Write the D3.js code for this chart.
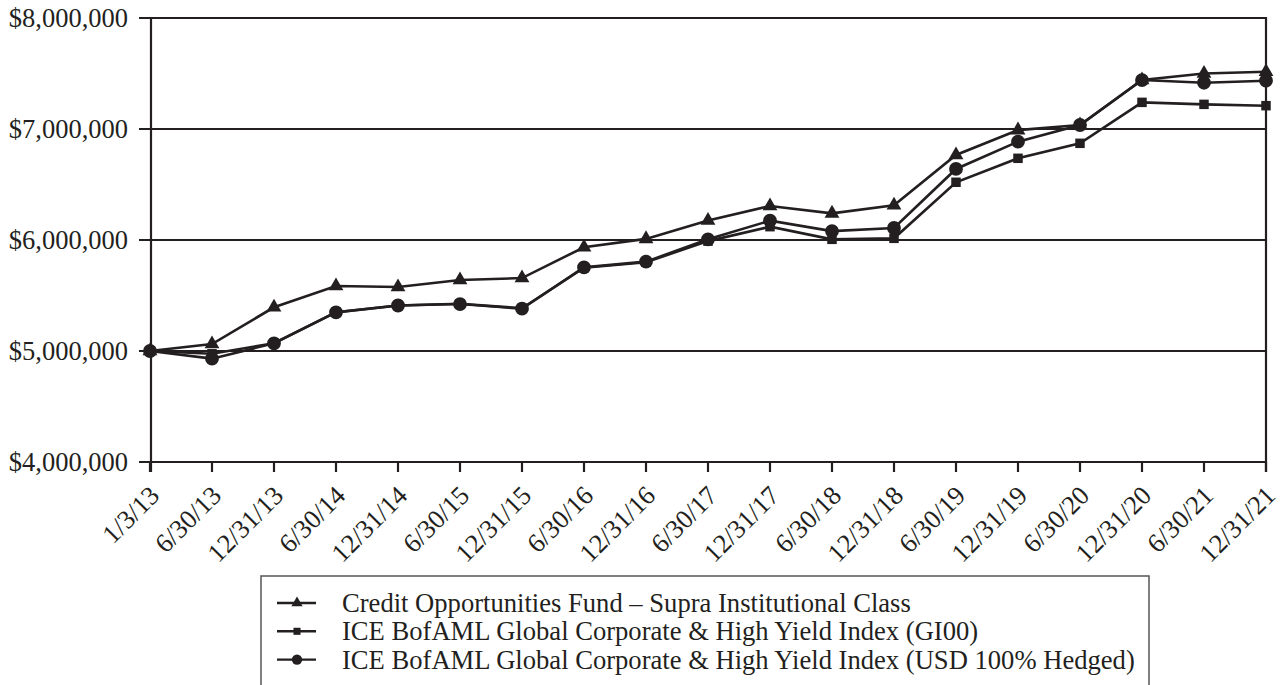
<!DOCTYPE html>
<html>
<head>
<meta charset="utf-8">
<script src="https://cdn.jsdelivr.net/npm/d3@7"></script>
<style>
  body { margin: 0; background: #fff; }
  svg { display: block; font-family: "Liberation Serif", "Times New Roman", serif; }
</style>
</head>
<body>
<svg id="chart"></svg>
<script>
//DATA
var dates = ["1/3/13", "6/30/13", "12/31/13", "6/30/14", "12/31/14", "6/30/15", "12/31/15",
  "6/30/16", "12/31/16", "6/30/17", "12/31/17", "6/30/18", "12/31/18", "6/30/19",
  "12/31/19", "6/30/20", "12/31/20", "6/30/21", "12/31/21"];
var fundValues = [5000000, 5063000, 5394000, 5586000, 5577000, 5640000, 5657000,
  5935000, 6010000, 6175000, 6306000, 6240000, 6313000, 6766000,
  6990000, 7036000, 7441000, 7500000, 7516000];
var gi00Values = [5000000, 4975000, 5070000, 5350000, 5410000, 5425000, 5385000,
  5750000, 5800000, 5990000, 6120000, 6006000, 6015000, 6520000,
  6736000, 6871000, 7240000, 7222000, 7210000];
var hedgedValues = [5000000, 4931000, 5069000, 5348000, 5410000, 5423000, 5381000,
  5754000, 5805000, 6006000, 6174000, 6080000, 6108000, 6640000,
  6886000, 7036000, 7441000, 7417000, 7435000];
var yTicks = [4000000, 5000000, 6000000, 7000000, 8000000];
var seriesNames = ["Credit Opportunities Fund \u2013 Supra Institutional Class",
  "ICE BofAML Global Corporate & High Yield Index (GI00)",
  "ICE BofAML Global Corporate & High Yield Index (USD 100% Hedged)"];

//SET UP THE CANVAS
var w = 1285;
var h = 685;
var ink = "#231f20";
var plotLeft = 151, plotRight = 1266, plotTop = 18, plotBottom = 462;

var svg = d3.select("#chart")
  .attr("width", w)
  .attr("height", h);

var xScale = d3.scalePoint()
  .domain(dates)
  .range([plotLeft - 1, plotRight]);
var yScale = d3.scaleLinear()
  .domain([4000000, 8000000])
  .range([plotBottom, plotTop]);

var fmt = function (d) { return "$" + d3.format(",")(d); };

//GRID + Y AXIS
svg.append("g")
  .selectAll("line")
  .data(yTicks)
  .join("line")
  .attr("x1", plotLeft - 12)
  .attr("x2", plotRight)
  .attr("y1", d => yScale(d))
  .attr("y2", d => yScale(d))
  .attr("stroke", ink)
  .attr("stroke-width", 2.2);

svg.append("g")
  .selectAll("text")
  .data(yTicks)
  .join("text")
  .attr("x", plotLeft - 23)
  .attr("y", d => yScale(d) + 9)
  .attr("text-anchor", "end")
  .attr("font-size", 26.5)
  .attr("fill", ink)
  .text(fmt);

//LEFT + RIGHT FRAME
svg.append("line")
  .attr("x1", plotLeft).attr("x2", plotLeft)
  .attr("y1", plotTop - 1).attr("y2", plotBottom + 10)
  .attr("stroke", ink).attr("stroke-width", 2.2);
svg.append("line")
  .attr("x1", plotRight).attr("x2", plotRight)
  .attr("y1", plotTop - 1).attr("y2", plotBottom + 10)
  .attr("stroke", ink).attr("stroke-width", 2.2);

//X TICKS
var xg = svg.append("g");
xg.selectAll("line")
  .data(dates)
  .join("line")
  .attr("x1", d => xScale(d))
  .attr("x2", d => xScale(d))
  .attr("y1", plotBottom)
  .attr("y2", plotBottom + 10)
  .attr("stroke", ink)
  .attr("stroke-width", 2.2);
xg.selectAll("text")
  .data(dates)
  .join("text")
  .attr("transform", d => "translate(" + (xScale(d) + 11) + "," + (plotBottom + 35) + ") rotate(-45)")
  .attr("text-anchor", "end")
  .attr("font-size", 26.5)
  .attr("fill", ink)
  .text(d => d);

//SYMBOLS
var triangle = d3.symbol().type(d3.symbolTriangle);
var square = d3.symbol().type(d3.symbolSquare);
var circle = d3.symbol().type(d3.symbolCircle);

var series = [
  { name: seriesNames[0], values: fundValues, sym: triangle, size: 95, lsize: 55 },
  { name: seriesNames[1], values: gi00Values, sym: square, size: 90, lsize: 50 },
  { name: seriesNames[2], values: hedgedValues, sym: circle, size: 150, lsize: 85 }
];

var lineMaker = d3.line()
  .x((d, i) => xScale(dates[i]))
  .y(d => yScale(d));

series.forEach(function (s) {
  var g = svg.append("g");
  g.append("path")
    .attr("d", lineMaker(s.values))
    .attr("fill", "none")
    .attr("stroke", ink)
    .attr("stroke-width", 2.6);
  g.selectAll("path.mark")
    .data(s.values)
    .join("path")
    .attr("class", "mark")
    .attr("transform", (d, i) => "translate(" + xScale(dates[i]) + "," + yScale(d) + ")")
    .attr("d", s.sym.size(s.size)())
    .attr("fill", ink);
});

//LEGEND
var legend = svg.append("g");
legend.append("rect")
  .attr("x", 261)
  .attr("y", 576)
  .attr("width", 888)
  .attr("height", 140)
  .attr("fill", "none")
  .attr("stroke", "#555")
  .attr("stroke-width", 1.5);

var rows = legend.selectAll("g.row")
  .data(series)
  .join("g")
  .attr("class", "row")
  .attr("transform", (d, i) => "translate(0," + (603 + i * 28.3) + ")");
rows.append("line")
  .attr("x1", 277).attr("x2", 316)
  .attr("y1", 0).attr("y2", 0)
  .attr("stroke", ink).attr("stroke-width", 2.4);
rows.append("path")
  .attr("transform", "translate(297,0)")
  .attr("d", d => d.sym.size(d.lsize)())
  .attr("fill", ink);
rows.append("text")
  .attr("x", 342)
  .attr("y", 9)
  .attr("font-size", 26.6)
  .attr("fill", ink)
  .text(d => d.name);
</script>
</body>
</html>
